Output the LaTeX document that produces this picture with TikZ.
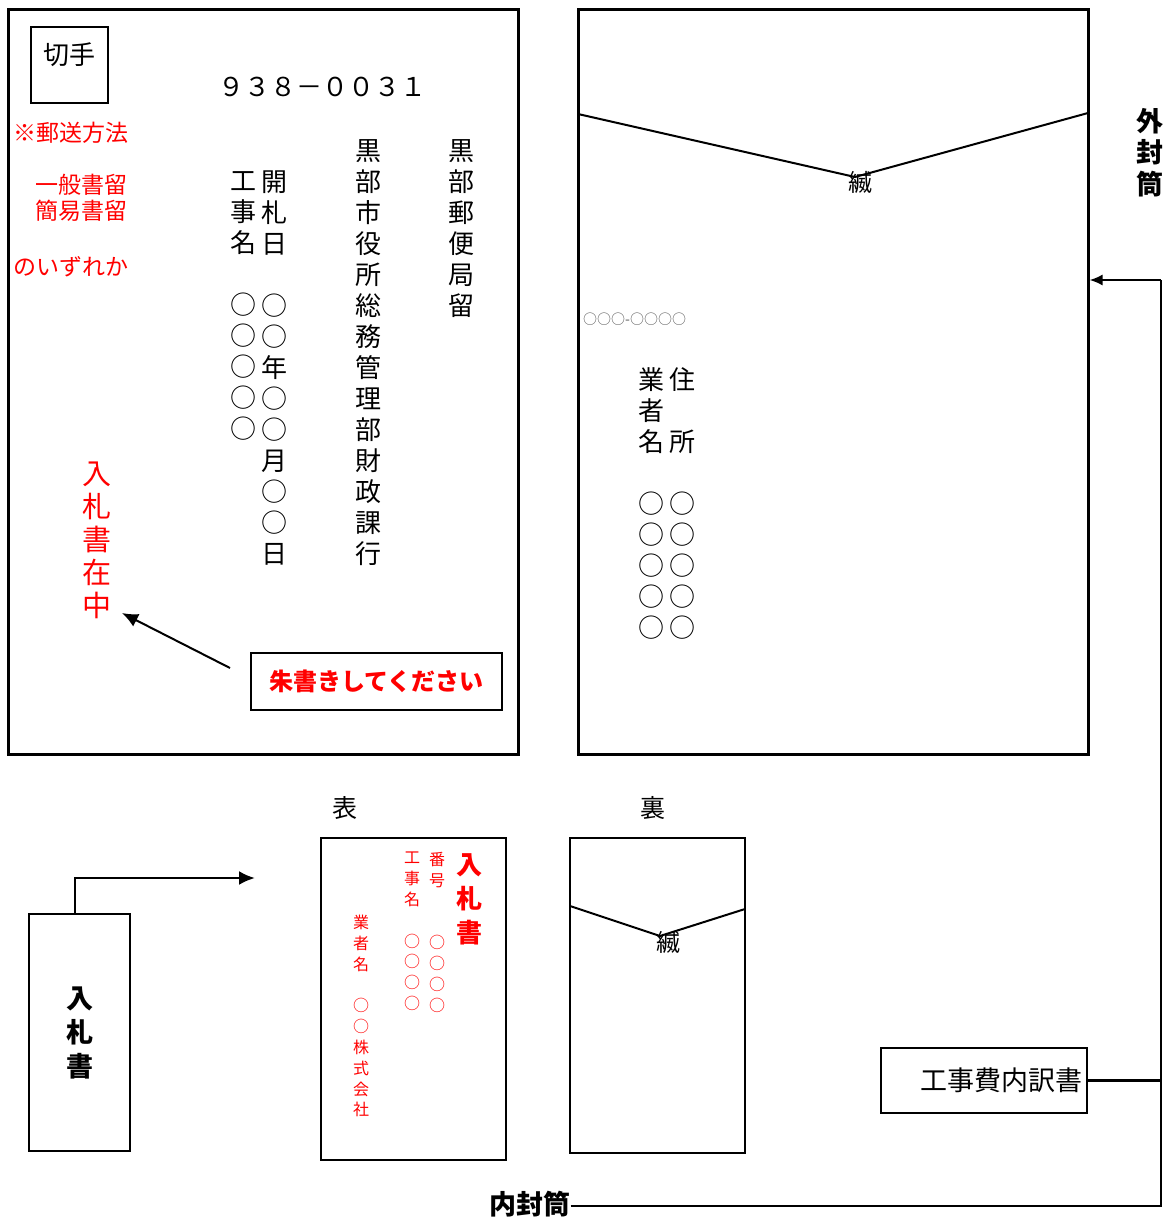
\documentclass[tikz,border=0pt]{standalone}
\usepackage{fontspec}
\newfontfamily\jp{Noto Sans CJK JP}
\usetikzlibrary{arrows.meta}

\begin{document}
\begin{tikzpicture}[x=1pt, y=-1pt,
	env/.style={draw, line width=3pt, minimum width=510, minimum height=744, inner sep=0},
	box/.style={draw, line width=2pt, inner sep=0},
	vcol/.style={align=center, inner sep=0, anchor=north},
	mincho/.style={font=\jp\fontsize{26}{31}\selectfont},
	aka/.style={font=\jp\fontsize{23}{27}\selectfont, text=red, inner sep=0},
	akasmall/.style={font=\jp\fontsize{16}{20.8}\selectfont, text=red},
	tip/.style={-{Latex[length=16pt, width=14pt]}, line width=2pt}]

	\useasboundingbox (0,0) rectangle (1164,1217);

	\node [env] (omote) at (263,382) {};

	\node [box, minimum width=77, minimum height=76] (kitte) at (69.5,65) {};
	\node [mincho, inner sep=0] (kittetxt) at (69,55) {切手};

	\node [font=\jp\fontsize{26}{30}\selectfont, inner sep=0] (yubin) at (322,87) {９３８－００３１};

	\node [aka, anchor=west] (hoho) at (13,133) {※郵送方法};
	\node [aka, anchor=east] (ippan) at (128,185) {一般書留};
	\node [aka, anchor=east] (kani) at (128,211) {簡易書留};
	\node [aka, anchor=west] (izure) at (13,267) {のいずれか};

	\node [vcol, mincho] (koji) at (243,171) {工\\事\\名\\[31pt]○\\○\\○\\○\\○};
	\node [vcol, mincho] (kaisatsu) at (274,171) {開\\札\\日\\[31pt]○\\○\\年\\○\\○\\月\\○\\○\\日};
	\node [vcol, mincho] (atesaki) at (368,139) {黒\\部\\市\\役\\所\\総\\務\\管\\理\\部\\財\\政\\課\\行};
	\node [vcol, mincho] (kyokudome) at (461,139) {黒\\部\\郵\\便\\局\\留};

	\node [vcol, font=\jp\fontsize{29}{33}\selectfont, text=red] (zaichu) at (97,462) {入\\札\\書\\在\\中};

	\node [box, minimum width=251, minimum height=57,
		font=\jp\bfseries\fontsize{24}{28}\selectfont, text=red] (shugaki) at (376.5,681.5) {朱書きしてください};

	\coordinate (shutail) at (230,668);
	\coordinate (shutip) at (122,613);
	\draw
		[tip] (shutail) -- (shutip);

	\node [env] (ura) at (833,382) {};
	\draw
		[line width=2pt] (578,114) -- (855,177) -- (1088,113);
	\node [font=\jp\fontsize{24}{28}\selectfont, inner sep=0] (fuji) at (860,182) {縅};

	\node [font=\jp\fontsize{14}{16}\selectfont, text=black!65, anchor=west, inner sep=0] (uraPost) at (583,319) {○○○-○○○○};

	\node [vcol, mincho] (gyosha) at (651,367) {業\\者\\名\\[31pt]○\\○\\○\\○\\○};
	\node [vcol, mincho] (jusho) at (682,367) {住\\[31pt]所\\[31pt]○\\○\\○\\○\\○};

	\node [vcol, font=\jp\bfseries\fontsize{27}{31.5}\selectfont] (sotofuto) at (1150,108) {外\\封\\筒};

	\node [box, minimum width=101, minimum height=237, align=center,
		font=\jp\bfseries\fontsize{27}{34}\selectfont] (nyusatsu) at (79.5,1032.5) {入\\札\\書};

	\coordinate (omotetip) at (255,878);
	\draw
		[tip, line width=2.5pt] ([xshift=-4.5pt]nyusatsu.north) |- (omotetip);

	\node [font=\jp\fontsize{25}{30}\selectfont, inner sep=0] (omotelbl) at (345,808) {表};
	\node [font=\jp\fontsize{25}{30}\selectfont, inner sep=0] (uralbl) at (653,808) {裏};

	\node [box, minimum width=185, minimum height=322] (naiomote) at (413.5,999) {};
	\node [vcol, font=\jp\bfseries\fontsize{26}{34}\selectfont, text=red] (naiNyusatsu) at (469,853) {入\\札\\書};
	\node [vcol, akasmall] (bango) at (437,852) {番\\号\\[41.6pt]○\\○\\○\\○};
	\node [vcol, akasmall] (kojimei) at (412,852) {工\\事\\名\\[20.8pt]○\\○\\○\\○};
	\node [vcol, akasmall] (gyoshamei) at (361,915) {業\\者\\名\\[20.8pt]○\\○\\株\\式\\会\\社};

	\node [box, minimum width=175, minimum height=315] (naiura) at (657.5,995.5) {};
	\draw
		[line width=2pt] (570,906) -- (660,936) -- (745,909);
	\node [font=\jp\fontsize{24}{28}\selectfont, inner sep=0] (fuji2) at (668,942) {縅};

	\node [box, text width=196, inner xsep=5, align=right, minimum height=65,
		font=\jp\fontsize{27}{31}\selectfont] (uchiwake) at (984,1080.5) {工事費内訳書};

	\node [font=\jp\bfseries\fontsize{27}{31}\selectfont, inner sep=0] (naifuto) at (530,1204) {内封筒};

	\coordinate (railbot) at (1161,1206);
	\coordinate (railtop) at (1161,280);
	\draw
		[line width=2.5pt] (naifuto.east |- railbot) -- (railbot) -- (railtop);
	\draw
		[-{Latex[length=13pt, width=11pt]}, line width=2pt] (railtop) -- (railtop -| ura.east);
	\draw
		[line width=2.5pt] (uchiwake.east) -- (uchiwake.east -| railtop);

\end{tikzpicture}
\end{document}
